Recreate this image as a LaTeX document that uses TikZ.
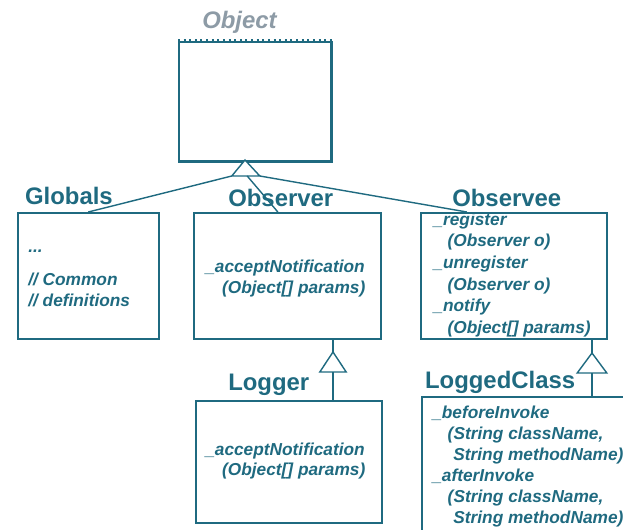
\documentclass[tikz,border=0pt]{standalone}
\usepackage{fontspec}
\setmainfont{Liberation Sans}
\usetikzlibrary{calc}
\definecolor{umlteal}{HTML}{1F6A80}
\definecolor{umlgrey}{HTML}{8D9BA6}
\tikzset{
	classbox/.style={draw=umlteal, line width=1.1pt, inner sep=0pt, anchor=north west},
	classname/.style={umlteal, font=\fontsize{17}{20}\selectfont\bfseries, anchor=base west, inner sep=0pt},
	members/.style={umlteal, font=\fontsize{12.3}{15}\selectfont\bfseries\itshape, align=left, anchor=north west, inner sep=0pt},
	generalization/.style={draw=umlteal, line width=1pt, fill=white},
	link/.style={draw=umlteal, line width=1pt}
}
\begin{document}
\begin{tikzpicture}
		\useasboundingbox (0,0) rectangle (15.575,-13.25);
		\clip (0,0) rectangle (15.575,-13.25);
		% Object
		\node[umlgrey, font=\fontsize{17}{20}\selectfont\bfseries\itshape, anchor=base west, inner sep=0pt] (objectname) at (5.05,-0.70) {Object};
		\node[classbox, minimum width=3.80cm, minimum height=2.975cm] (object) at (4.45,-1.025) {};
		\draw[umlteal, line width=1.8pt, dash pattern=on 1.4pt off 2.6pt] ($(object.north west)+(0,0.03)$) -- ($(object.north east)+(0,0.03)$);
		\draw[umlteal, line width=2.2pt] (object.north east) -- (object.south east) -- (object.south west);
		% classes, first row
		\node[classbox, minimum width=3.525cm, minimum height=3.15cm] (globals) at (0.425,-5.30) {};
		\node[classbox, minimum width=4.675cm, minimum height=3.15cm] (observer) at (4.825,-5.30) {};
		\node[classbox, minimum width=4.650cm, minimum height=3.15cm] (observee) at (10.50,-5.30) {};
		\node[classname] (globalsname) at (0.62,-5.12) {Globals};
		\node[classname] (observername) at (5.70,-5.17) {Observer};
		\node[classname] (observeename) at (11.30,-5.17) {Observee};
		% classes, second row
		\node[classbox, minimum width=4.650cm, minimum height=3.05cm] (logger) at (4.875,-10.00) {};
		\node[classbox, minimum width=6.00cm, minimum height=4.00cm] (loggedclass) at (10.525,-9.90) {};
		\node[classname] (loggername) at (5.70,-9.75) {Logger};
		\node[classname] (loggedclassname) at (10.62,-9.70) {LoggedClass};
		% members
		\node[members] (globalsbody) at (0.70,-5.93) {\strut...\\[8.5pt]// Common\\// definitions};
		\node[members] (observerbody) at (5.125,-6.43) {\strut\_acceptNotification\\\hspace{12pt}(Object[] params)};
		\node[members, font=\fontsize{12.3}{15.4}\selectfont\bfseries\itshape] (observeebody) at (10.83,-5.246) {\strut\_register\\\hspace{10pt}(Observer o)\\\_unregister\\\hspace{10pt}(Observer o)\\\_notify\\\hspace{10pt}(Object[] params)};
		\node[members, font=\fontsize{12.3}{14.2}\selectfont\bfseries\itshape] (loggerbody) at (5.125,-11.025) {\strut\_acceptNotification\\\hspace{12pt}(Object[] params)};
		\node[members] (loggedclassbody) at (10.80,-10.08) {\strut\_beforeInvoke\\\hspace{11pt}(String className,\\\hspace{15pt}String methodName)\\\_afterInvoke\\\hspace{11pt}(String className,\\\hspace{15pt}String methodName)};
		% inheritance
		\coordinate (objtip) at (6.125,-4.00);
		\draw[generalization] (objtip) -- ++(-0.33,-0.40) coordinate (objleft) -- ++(0.70,0) coordinate (objright) -- cycle;
		\draw[link] (objleft) -- (globals.north);
		\draw[link] ($(objleft)!0.55!(objright)$) -- ($(observer.north west)!0.45!(observer.north east)$);
		\draw[link] (objright) -- ($(observee.north west)!0.25!(observee.north east)$);
		\coordinate (obstip) at (8.325,-8.80);
		\draw[link] (obstip |- observer.south) -- (obstip);
		\draw[generalization] (obstip) -- ++(-0.33,-0.50) -- ++(0.66,0) -- cycle;
		\draw[link] ($(obstip)+(0,-0.50)$) -- (obstip |- logger.north);
		\coordinate (obseetip) at (14.80,-8.825);
		\draw[link] (obseetip |- observee.south) -- (obseetip);
		\draw[generalization] (obseetip) -- ++(-0.37,-0.50) -- ++(0.74,0) -- cycle;
		\draw[link] ($(obseetip)+(0,-0.50)$) -- (obseetip |- loggedclass.north);
	\end{tikzpicture}
\end{document}
